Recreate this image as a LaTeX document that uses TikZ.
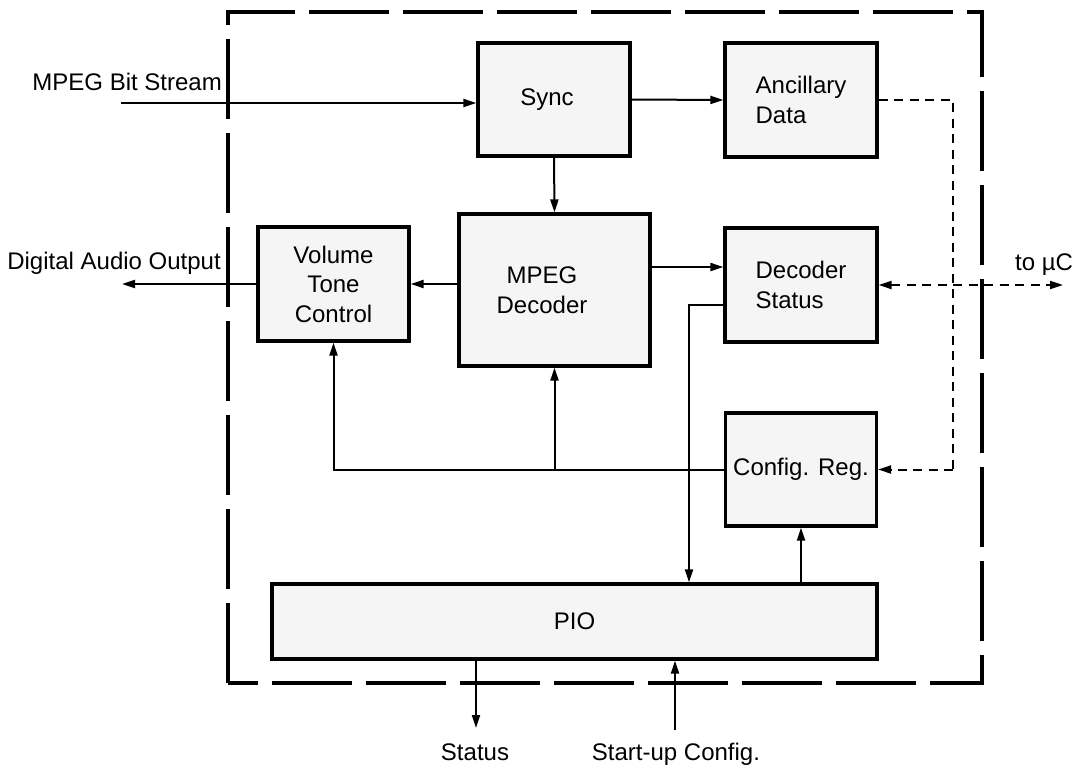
\documentclass[tikz,border=0pt]{standalone}
\usepackage{fontspec}
\setmainfont{Liberation Sans}
\usetikzlibrary{arrows.meta}
\definecolor{boxfill}{HTML}{F5F5F5}
\newcommand{\diafont}{\fontsize{24}{29.5}\selectfont}
\begin{document}
\begin{tikzpicture}[x=1pt,y=-1pt,
  blk/.style={draw, line width=3.2pt, fill=boxfill, inner sep=0pt, align=center, font=\diafont},
  lbl/.style={inner sep=0pt, font=\diafont},
  conn/.style={line width=2pt},
  arr/.style={conn, -{Triangle[length=13pt,width=8pt]}},
  dsh/.style={line width=2pt, dash pattern=on 9pt off 6.5pt},
  outerbox/.style={line width=4.5pt, dash pattern=on 80pt off 14pt}
]
\useasboundingbox (0,0) rectangle (1073,766);

% outer dashed boundary
\draw[outerbox] (228,683) -- (228,12) -- (982,12) -- (982,683) -- cycle;

% blocks
\node[blk, minimum width=152pt, minimum height=113pt] (sync) at (554,99.5) {Sync\hspace*{14pt}};
\node[blk, minimum width=152pt, minimum height=114pt, align=left] (anc) at (801,100) {Ancillary\\Data};
\node[blk, minimum width=151pt, minimum height=114pt] (vol) at (333.5,284) {Volume\\Tone\\Control};
\node[blk, minimum width=191pt, minimum height=152pt] (dec) at (554.5,290) {MPEG\hspace*{25pt}\\Decoder\hspace*{25pt}};
\node[blk, minimum width=152pt, minimum height=114pt, align=left] (stat) at (801,285) {Decoder\\Status};
\node[blk, minimum width=151pt, minimum height=113pt] (cfg) at (801,469.5) {Config. Reg.};
\node[blk, minimum width=605pt, minimum height=75pt] (pio) at (574.5,621.5) {PIO};

% external labels
\node[lbl, anchor=base east] (lbs) at (222,90) {MPEG Bit Stream};
\node[lbl, anchor=base east] (lda) at (221,269) {Digital Audio Output};
\node[lbl, anchor=base west] (luc) at (1015,270) {to \textmu C};
\node[lbl, anchor=base] (lst) at (475,760) {Status};
\node[lbl, anchor=base] (lsu) at (676,760) {Start-up Config.};

% free ends
\coordinate (bsin) at (121,103);
\coordinate (audout) at (122,284);
\coordinate (ucout) at (1063,285);
\coordinate (dv) at (953,100);
\coordinate (stout) at (476,728);
\coordinate (suin) at (675,730);

% connectors
\draw[arr] (bsin) -- (bsin -| sync.west);
\draw[arr] (sync.east) -- (anc.west);
\draw[arr] (sync.south) -- (dec.north);
\draw[arr] (dec.west |- vol.east) -- (vol.east);
\draw[arr] (vol.west) -- (audout);
\draw[arr] ([yshift=23pt]dec.east) -- ([yshift=23pt]dec.east -| stat.west);
\draw[arr] ([yshift=-20pt]stat.west) -| ([xshift=114.5pt]pio.north);
\draw[arr] (cfg.west) -| (vol.south);
\draw[arr] (dec.south |- cfg.west) -- (dec.south);
\draw[arr] (pio.north -| cfg.south) -- (cfg.south);
\draw[arr] (pio.south -| stout) -- (stout);
\draw[arr] (suin) -- (pio.south -| suin);

% dashed connectors
\draw[dsh] (anc.east) -- (dv) -- (dv |- cfg.east);
\draw[dsh, -{Triangle[length=13pt,width=8pt]}] (dv |- cfg.east) -- (cfg.east);
\draw[dsh, {Triangle[length=13pt,width=8pt]}-{Triangle[length=13pt,width=8pt]}] (stat.east) -- (ucout);
\end{tikzpicture}
\end{document}
